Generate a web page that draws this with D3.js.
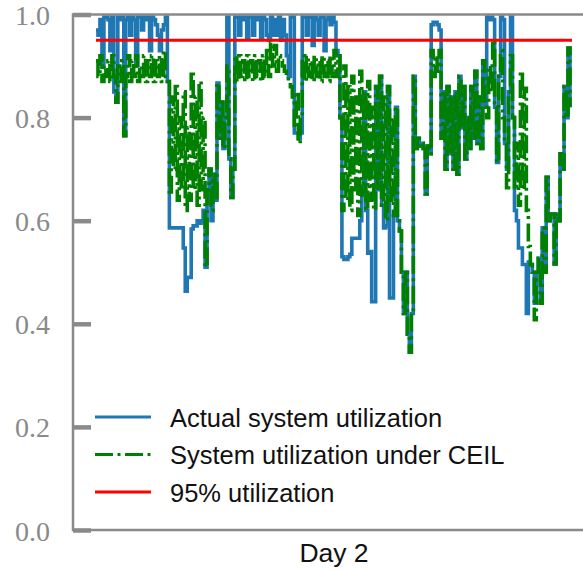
<!DOCTYPE html>
<html>
<head>
<meta charset="utf-8">
<script src="https://cdn.jsdelivr.net/npm/d3@7"></script>
<style>
  html, body { margin: 0; padding: 0; background: #fff; }
  svg { display: block; }
</style>
</head>
<body>
<svg id="chart"></svg>
<script>
// one day of samples, every 6 minutes
const sampleMinutes = 6;

// actual system utilization
const actualUtil = [
  0.97, 0.96, 0.99, 0.90, 0.995, 0.995, 0.99, 0.93, 0.995, 0.85, 0.83, 0.995, 0.99, 0.995, 0.765, 0.99, 0.995, 0.96,
  0.995, 0.99, 0.90, 0.995, 0.995, 0.97, 0.995, 0.99, 0.995, 0.93, 0.995, 0.99, 0.98, 0.96, 0.93, 0.97, 0.98, 0.995,
  0.87, 0.586, 0.586, 0.586, 0.586, 0.586, 0.586, 0.586, 0.547, 0.463, 0.49, 0.49, 0.584, 0.59, 0.59, 0.60, 0.595, 0.60, 0.62, 0.51,
  0.66, 0.70, 0.60, 0.69, 0.64, 0.867, 0.76, 0.83, 0.74, 0.80, 0.995, 0.72, 0.645, 0.70, 0.995,
  0.995, 0.96, 0.995, 0.99, 0.995, 0.955, 0.995, 0.995, 0.96, 0.995, 0.99, 0.995, 0.955, 0.995,
  0.99, 0.96, 0.95, 0.995, 0.96, 0.99, 0.96, 0.995, 0.95, 0.99, 0.96, 0.92, 0.88,
  0.995, 0.995, 0.77, 0.77, 0.76, 0.77, 0.995, 0.995, 0.96, 0.995, 0.995, 0.94, 0.995, 0.99, 0.96,
  0.995, 0.995, 0.93, 0.99, 0.995, 0.98, 0.995, 0.985, 0.93, 0.92, 0.80,
  0.53, 0.525, 0.525, 0.53, 0.535, 0.566, 0.566, 0.566, 0.566, 0.60, 0.65, 0.85, 0.62, 0.537, 0.54,
  0.443, 0.443, 0.86, 0.66, 0.88, 0.63, 0.586, 0.59, 0.86, 0.45, 0.45, 0.61, 0.82, 0.60,
  0.58, 0.50, 0.42, 0.50, 0.38, 0.345, 0.42, 0.88, 0.74, 0.76, 0.745, 0.75, 0.74, 0.652, 0.745, 0.73,
  0.98, 0.985, 0.985, 0.98, 0.97, 0.76, 0.85, 0.70, 0.86, 0.73, 0.84, 0.70, 0.85, 0.69,
  0.88, 0.78, 0.86, 0.72, 0.80, 0.74, 0.86, 0.76, 0.89, 0.75, 0.84, 0.74, 0.91, 0.82,
  0.995, 0.99, 0.995, 0.99, 0.82, 0.713, 0.88, 0.995, 0.99, 0.75, 0.70, 0.85, 0.995, 0.80,
  0.62, 0.60, 0.547, 0.547, 0.515, 0.515, 0.42, 0.52, 0.515, 0.50, 0.44, 0.50, 0.527, 0.44, 0.586, 0.50, 0.684,
  0.60, 0.613, 0.613, 0.516, 0.613, 0.60, 0.73, 0.70, 0.86, 0.80, 0.935, 0.82
];

// utilization under CEIL
const ceilUtil = [
  0.91, 0.88, 0.92, 0.87, 0.90, 0.88, 0.91, 0.87, 0.92, 0.88, 0.83, 0.90, 0.87, 0.91, 0.765, 0.88, 0.92, 0.87,
  0.91, 0.88, 0.92, 0.87, 0.90, 0.88, 0.92, 0.87, 0.91, 0.88, 0.92, 0.87, 0.91, 0.88, 0.92, 0.87, 0.93, 0.88,
  0.87, 0.65, 0.84, 0.70, 0.86, 0.64, 0.80, 0.66, 0.85, 0.62, 0.78, 0.64, 0.89, 0.66, 0.84, 0.63, 0.87, 0.66, 0.80, 0.51,
  0.66, 0.70, 0.62, 0.69, 0.64, 0.867, 0.76, 0.83, 0.74, 0.80, 0.90, 0.72, 0.645, 0.70, 0.92,
  0.87, 0.92, 0.88, 0.91, 0.87, 0.92, 0.88, 0.91, 0.87, 0.92, 0.88, 0.91, 0.87, 0.92,
  0.88, 0.93, 0.88, 0.945, 0.90, 0.94, 0.89, 0.92, 0.91, 0.90, 0.89, 0.88, 0.87,
  0.86, 0.84, 0.78, 0.85, 0.75, 0.80, 0.92, 0.87, 0.92, 0.88, 0.91, 0.87, 0.92, 0.88, 0.91,
  0.87, 0.92, 0.88, 0.91, 0.87, 0.92, 0.88, 0.93, 0.88, 0.92, 0.80,
  0.62, 0.90, 0.64, 0.86, 0.62, 0.88, 0.66, 0.84, 0.61, 0.89, 0.65, 0.85, 0.62, 0.87, 0.64,
  0.82, 0.62, 0.86, 0.66, 0.88, 0.63, 0.84, 0.60, 0.86, 0.64, 0.80, 0.61, 0.82, 0.60,
  0.58, 0.50, 0.42, 0.50, 0.38, 0.345, 0.42, 0.88, 0.74, 0.76, 0.745, 0.75, 0.74, 0.652, 0.745, 0.73,
  0.93, 0.88, 0.92, 0.89, 0.93, 0.76, 0.85, 0.70, 0.86, 0.73, 0.84, 0.70, 0.85, 0.69,
  0.88, 0.78, 0.86, 0.72, 0.80, 0.74, 0.86, 0.76, 0.89, 0.75, 0.84, 0.74, 0.91, 0.82,
  0.80, 0.90, 0.85, 0.95, 0.82, 0.713, 0.88, 0.93, 0.80, 0.75, 0.664, 0.85, 0.92, 0.80,
  0.66, 0.75, 0.63, 0.89, 0.66, 0.857, 0.62, 0.55, 0.515, 0.50, 0.408, 0.50, 0.527, 0.44, 0.586, 0.50, 0.684,
  0.60, 0.613, 0.613, 0.516, 0.613, 0.60, 0.73, 0.70, 0.86, 0.80, 0.935, 0.82
];

const targetUtil = 0.95;
const yTicks = [0.0, 0.2, 0.4, 0.6, 0.8, 1.0];
const xLabel = "Day 2";
const legendLabels = ["Actual system utilization", "System utilization under CEIL", "95% utilization"];

const width = 583, height = 570;
const plotLeft = 73, plotRight = 583, plotTop = 14.5, plotBottom = 530;
const grey = "#8a8a8a";

const svg = d3.select("#chart").attr("width", width).attr("height", height);

const minutes = actualUtil.map((d, i) => i * sampleMinutes);
const x = d3.scaleLinear()
    .domain([0, minutes[minutes.length - 1]])
    .range([96, 570]);
const y = d3.scaleLinear().domain([0, 1]).range([plotBottom, plotTop]);

const line = d3.line()
    .x((d, i) => x(minutes[i]))
    .y(d => y(d))
    .curve(d3.curveStepAfter);

// series
svg.append("path")
    .datum(actualUtil)
    .attr("d", line)
    .attr("fill", "none")
    .attr("stroke", "#1f77b4")
    .attr("stroke-width", 3.6);

svg.append("path")
    .datum(ceilUtil)
    .attr("d", line)
    .attr("fill", "none")
    .attr("stroke", "#008000")
    .attr("stroke-width", 3.6)
    .attr("stroke-dasharray", "18,4.5,3,4.5");

svg.append("line")
    .attr("x1", x(minutes[0])).attr("x2", x(minutes[minutes.length - 1]) + 2)
    .attr("y1", y(targetUtil)).attr("y2", y(targetUtil))
    .attr("stroke", "#ff0000")
    .attr("stroke-width", 3);

// spines
svg.append("line")
    .attr("x1", plotLeft).attr("x2", plotRight).attr("y1", plotTop).attr("y2", plotTop)
    .attr("stroke", grey).attr("stroke-width", 2.5);
svg.append("line")
    .attr("x1", plotLeft).attr("x2", plotRight).attr("y1", plotBottom).attr("y2", plotBottom)
    .attr("stroke", grey).attr("stroke-width", 2.5);
svg.append("line")
    .attr("x1", plotLeft).attr("x2", plotLeft).attr("y1", plotTop - 1.25).attr("y2", plotBottom + 1.25)
    .attr("stroke", grey).attr("stroke-width", 2.5);

// y axis: inward ticks, serif labels
const yAxis = d3.axisLeft(y)
    .tickValues(yTicks)
    .tickFormat(d3.format(".1f"))
    .tickSizeInner(-18)
    .tickSizeOuter(0)
    .tickPadding(23);

const gy = svg.append("g")
    .attr("transform", `translate(${plotLeft},0)`)
    .call(yAxis);
gy.select(".domain").remove();
gy.selectAll(".tick line")
    .attr("stroke", grey)
    .attr("stroke-width", 4.5);
gy.selectAll(".tick text")
    .attr("fill", grey)
    .attr("font-family", "'Liberation Serif', 'DejaVu Serif', serif")
    .attr("font-size", 28)
    .attr("dy", "0.36em");

// x label
svg.append("text")
    .attr("x", 334)
    .attr("y", 562)
    .attr("text-anchor", "middle")
    .attr("font-family", "'Liberation Sans', Arial, sans-serif")
    .attr("font-size", 26.5)
    .attr("fill", "#111")
    .text(xLabel);

// legend
const legendStyles = [
  { color: "#1f77b4", dash: null },
  { color: "#008000", dash: "18,4.5,3,4.5" },
  { color: "#ff0000", dash: null }
];
const legend = svg.append("g");
legendLabels.forEach((label, i) => {
    const ly = 417 + i * 37.5;
    legend.append("line")
        .attr("x1", 95).attr("x2", 151)
        .attr("y1", ly).attr("y2", ly)
        .attr("stroke", legendStyles[i].color)
        .attr("stroke-width", 3)
        .attr("stroke-dasharray", legendStyles[i].dash);
    legend.append("text")
        .attr("x", 170)
        .attr("y", ly + 9.5)
        .attr("font-family", "'Liberation Sans', Arial, sans-serif")
        .attr("font-size", 25.5)
        .attr("fill", "#111")
        .text(label);
});
</script>
</body>
</html>
